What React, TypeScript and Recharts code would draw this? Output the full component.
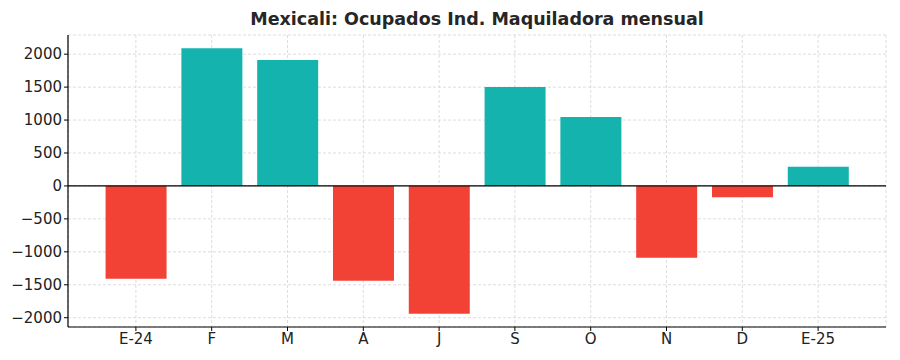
import {BarChart, Bar, Cell, XAxis, YAxis, CartesianGrid, ReferenceLine} from 'recharts';

const months = ['E-24', 'F', 'M', 'A', 'J', 'S', 'O', 'N', 'D', 'E-25'];
const change = [-1410, 2090, 1910, -1440, -1940, 1500, 1045, -1090, -170, 290];
const yTicks = [-2000, -1500, -1000, -500, 0, 500, 1000, 1500, 2000];

const POS = '#14B3AE';
const NEG = '#F24236';
const font = 'DejaVu Sans, sans-serif';

const data = months.map((m, i) => ({m, v: change[i]}));

const fmt = (v: number) => (v < 0 ? '\u2212' + Math.abs(v) : String(v));

export default function App() {
    return (
        <div style={{position: 'fixed', left: 0, top: 0, width: 900, height: 360, background: '#fff', fontFamily: font}}>
            <div style={{
                position: 'absolute', left: 68, width: 818, top: 8, lineHeight: '22px',
                textAlign: 'center', fontWeight: 'bold', fontSize: 17.5, color: '#262626'
            }}>
                Mexicali: Ocupados Ind. Maquiladora mensual
            </div>
            <BarChart width={900} height={360} data={data} barCategoryGap="10%"
                      margin={{top: 35, right: 14, left: 0, bottom: 0}}>
                <XAxis dataKey="m" height={33} padding={{left: 30, right: 30}}
                       axisLine={{stroke: '#000', strokeWidth: 1.2}} tickLine={{stroke: '#000'}} tickSize={4}
                       tick={{fill: '#222', fontSize: 15, fontFamily: font}}/>
                <YAxis width={68} domain={[-2141, 2291]} ticks={yTicks} tickFormatter={fmt}
                       allowDataOverflow axisLine={{stroke: '#000', strokeWidth: 1.2}}
                       tickLine={{stroke: '#000'}} tickSize={4}
                       tick={{fill: '#222', fontSize: 15, fontFamily: font}}/>
                <Bar dataKey="v" isAnimationActive={false}>
                    {data.map((d) => (
                        <Cell key={d.m} fill={d.v < 0 ? NEG : POS}/>
                    ))}
                </Bar>
                <CartesianGrid strokeDasharray="3 2" stroke="#d4d4d4" strokeOpacity={0.8}/>
                <ReferenceLine y={0} stroke="#000" strokeWidth={1.2}/>
            </BarChart>
        </div>
    );
}
